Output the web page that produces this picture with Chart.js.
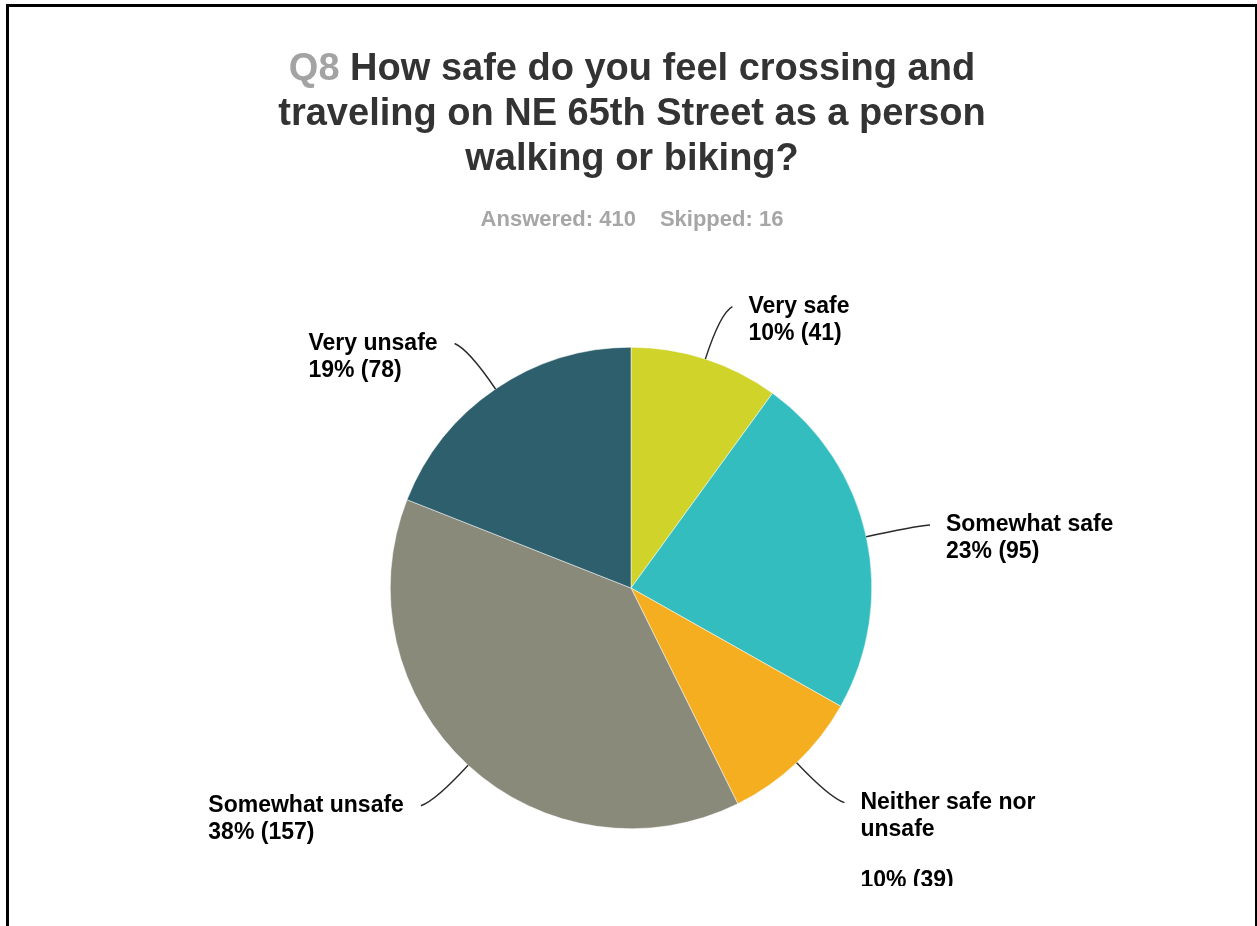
<!DOCTYPE html>
<html>
<head>
<meta charset="utf-8">
<script src="https://cdn.jsdelivr.net/npm/chart.js@4.4.1/dist/chart.umd.min.js"></script>
<style>
  html, body { margin: 0; padding: 0; background: #fff; }
  body { width: 1257px; height: 926px; overflow: hidden; position: relative; font-family: "Liberation Sans", Arial, sans-serif; }
  #frame { position: absolute; left: 6px; top: 4px; width: 1252px; height: 940px; box-sizing: border-box; border: 3px solid #000; z-index: 3; pointer-events: none; }
  #title { position: absolute; left: 6px; width: 1252px; top: 45px; margin: 0; text-align: center; font-weight: bold; font-size: 38px; line-height: 45px; color: #333; z-index: 2; }
  #title .q { color: #a3a3a3; }
  #sub { position: absolute; left: 6px; width: 1252px; top: 206px; text-align: center; font-weight: bold; font-size: 22px; line-height: 26px; color: #a6a6a6; z-index: 2; }
  #sub span { margin: 0 12px; }
  #wrap { position: absolute; left: 0; top: 0; width: 1257px; height: 886px; z-index: 1; }
</style>
</head>
<body>
<div id="frame"></div>
<h1 id="title"><span class="q">Q8</span> How safe do you feel crossing and<br>traveling on NE 65th Street as a person<br>walking or biking?</h1>
<div id="sub"><span>Answered: 410</span><span>Skipped: 16</span></div>
<div id="wrap"><canvas id="pie"></canvas></div>
<script>
// 資料
const categories = ['Very safe', 'Somewhat safe', 'Neither safe nor unsafe', 'Somewhat unsafe', 'Very unsafe'];
const counts = [41, 95, 39, 157, 78];
const percents = [10, 23, 10, 38, 19];
const sliceColors = ['#d0d42a', '#33bdbf', '#f5ae1f', '#898a7a', '#2e5f6d'];

const labelFont = 'bold 23px "Liberation Sans", Arial, sans-serif';

// 把文字換行 (超過寬度就斷)
function wrapText(ctx, text, maxW) {
    const words = text.split(' ');
    const lines = [];
    let cur = '';
    words.forEach(w => {
        const test = cur ? cur + ' ' + w : w;
        if (cur && ctx.measureText(test).width > maxW) {
            lines.push(cur);
            cur = w;
        } else {
            cur = test;
        }
    });
    if (cur) lines.push(cur);
    return lines;
}

// 外部標籤 + 引線
const outLabels = {
    id: 'outLabels',
    afterDatasetsDraw(chart) {
        const ctx = chart.ctx;
        const meta = chart.getDatasetMeta(0);
        ctx.save();
        ctx.font = labelFont;
        ctx.textBaseline = 'middle';
        ctx.textAlign = 'left';
        meta.data.forEach((arc, i) => {
            const p = arc.getProps(['x', 'y', 'startAngle', 'endAngle', 'outerRadius'], true);
            const mid = (p.startAngle + p.endAngle) / 2;
            const dx = Math.cos(mid), dy = Math.sin(mid);
            const side = dx >= 0 ? 1 : -1;
            const r = p.outerRadius;

            const x0 = p.x + dx * r, y0 = p.y + dy * r;
            const cx = p.x + dx * (r + 48), cy = p.y + dy * (r + 48);
            const ex = p.x + dx * (r + 55) + side * 10, ey = p.y + dy * (r + 55);

            ctx.beginPath();
            ctx.moveTo(x0, y0);
            ctx.quadraticCurveTo(cx, cy, ex, ey);
            ctx.strokeStyle = '#2a2a2a';
            ctx.lineWidth = 1.4;
            ctx.stroke();

            const nameLines = wrapText(ctx, categories[i], 200);
            const pctLine = percents[i] + '% (' + counts[i] + ')';
            const all = nameLines.concat([pctLine]);
            const blockW = Math.max(...all.map(t => ctx.measureText(t).width));
            const tx = side > 0 ? ex + 16 : ex - 17 - blockW;

            ctx.fillStyle = '#000';
            let y = ey;
            nameLines.forEach(t => {
                ctx.fillText(t, tx, y);
                y += 27;
            });
            if (nameLines.length > 1) y += 24;  // 換行的話多空一行
            ctx.fillText(pctLine, tx, y);
        });
        ctx.restore();
    }
};

new Chart(document.getElementById('pie'), {
    type: 'pie',
    data: {
        labels: categories,
        datasets: [{
            data: counts,
            backgroundColor: sliceColors,
            borderColor: '#ffffff',
            borderWidth: 0.5
        }]
    },
    options: {
        responsive: true,
        maintainAspectRatio: false,
        animation: false,
        layout: {
            padding: { left: 390, right: 385, top: 347, bottom: 57 }
        },
        plugins: {
            legend: { display: false },
            tooltip: { enabled: false }
        }
    },
    plugins: [outLabels]
});
</script>
</body>
</html>
